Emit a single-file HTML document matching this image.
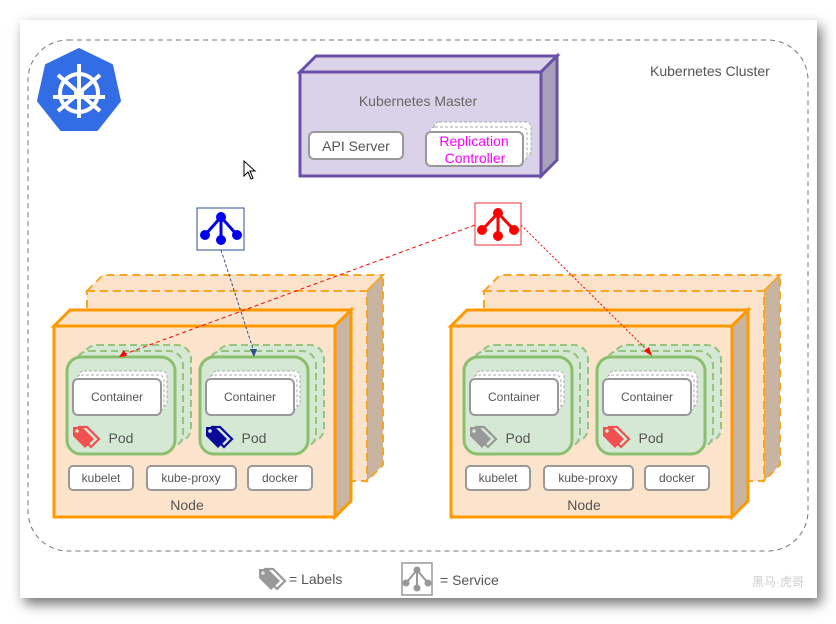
<!DOCTYPE html>
<html><head><meta charset="utf-8"><style>
html,body{margin:0;padding:0;background:#fff;width:836px;height:624px;overflow:hidden}
.card{position:absolute;left:20px;top:20px;width:797px;height:578px;background:#fff;box-shadow:4px 6px 12px rgba(0,0,0,0.55)}
svg{position:absolute;left:0;top:0}
text{font-family:"Liberation Sans",sans-serif}
</style></head><body>
<div class="card"></div>
<svg width="836" height="624" viewBox="0 0 836 624">
<defs>
<g id="tag">
<path d="M6,0 L14,0 L26,12 L18,20 L6,8 Z" fill="none" stroke="currentColor" stroke-width="2.2"/>
<path d="M0,0 L9,0 L21,12 L12,21 L0,9 Z" fill="currentColor"/>
<circle cx="4" cy="4" r="1.8" fill="#d8e8d0"/>
</g>
<g id="pod">
<rect x="16" y="-12" width="108" height="97" rx="14" fill="#d5e8d4" stroke="#97c37f" stroke-width="2" stroke-dasharray="7,4"/>
<rect x="8" y="-6" width="108" height="97" rx="14" fill="#d5e8d4" stroke="#97c37f" stroke-width="2" stroke-dasharray="7,4"/>
<rect x="0" y="0" width="108" height="97" rx="14" fill="#d5e8d4" stroke="#8bbf6e" stroke-width="3"/>
<rect x="12" y="14" width="88" height="36" rx="5" fill="#fff" stroke="#aaa" stroke-dasharray="3,2"/>
<rect x="9" y="18" width="88" height="36" rx="5" fill="#fff" stroke="#aaa" stroke-dasharray="3,2"/>
<rect x="6" y="22" width="88" height="36" rx="5" fill="#fff" stroke="#999" stroke-width="2"/>
</g>
<g id="node">
<path d="M33,-35 L49,-51 L329,-51 L313,-35 Z" fill="#fbe3cb" stroke="#f5a623" stroke-width="2" stroke-dasharray="8,5"/>
<path d="M313,-35 L329,-51 L329,139 L313,155 Z" fill="#c8b4a0" stroke="#f5a623" stroke-width="2" stroke-dasharray="8,5"/>
<rect x="33" y="-35" width="280" height="190" fill="#fbe3cb" stroke="#f5a623" stroke-width="2" stroke-dasharray="8,5"/>
<path d="M0,0 L16,-16 L297,-16 L281,0 Z" fill="#fbe3cb" stroke="#f90" stroke-width="3"/>
<path d="M281,0 L297,-16 L297,175 L281,191 Z" fill="#c8b4a0" stroke="#f90" stroke-width="3"/>
<rect x="0" y="0" width="281" height="191" fill="#fce4cc" stroke="#f90" stroke-width="3"/>
<use href="#pod" x="13" y="31"/>
<use href="#pod" x="146" y="31"/>
<rect x="15" y="140" width="64" height="24" rx="4" fill="#fff" stroke="#999" stroke-width="2"/>
<rect x="93" y="140" width="89" height="24" rx="4" fill="#fff" stroke="#999" stroke-width="2"/>
<rect x="194" y="140" width="64" height="24" rx="4" fill="#fff" stroke="#999" stroke-width="2"/>
</g>
</defs>

<rect x="28" y="40" width="780" height="511" rx="40" fill="none" stroke="#777" stroke-dasharray="5,4"/>
<text x="650" y="76" font-size="14" fill="#555">Kubernetes Cluster</text>

<!-- logo -->
<polygon points="79,49 112,65 120,101 97,130 61,130 38,101 46,65" fill="#326de6" stroke="#326de6" stroke-width="2" stroke-linejoin="round"/>
<g stroke="#fff" fill="none" stroke-width="4">
<circle cx="79" cy="93" r="19"/>
<line x1="79" y1="64" x2="79" y2="118"/>
<line x1="58" y1="75" x2="100" y2="111"/>
<line x1="100" y1="75" x2="58" y2="111"/>
<line x1="53" y1="97" x2="105" y2="97"/>
</g>
<circle cx="79" cy="93" r="5" fill="#fff"/>

<!-- master -->
<path d="M300,72 L316,56 L557,56 L541,72 Z" fill="#dcd5ea" stroke="#6a50a7" stroke-width="3"/>
<path d="M541,72 L557,56 L557,160 L541,176 Z" fill="#a9a1b9" stroke="#6a50a7" stroke-width="3"/>
<rect x="300" y="72" width="241" height="104" fill="#d9d2e8" stroke="#6a50a7" stroke-width="3"/>
<text x="418" y="106" font-size="14" fill="#666" text-anchor="middle">Kubernetes Master</text>
<rect x="309" y="132" width="94" height="27" rx="5" fill="#fff" stroke="#999" stroke-width="2"/>
<text x="356" y="151" font-size="14" fill="#555" text-anchor="middle">API Server</text>
<rect x="434" y="122" width="97" height="34" rx="5" fill="#fff" stroke="#aaa" stroke-dasharray="3,2"/>
<rect x="430" y="127" width="97" height="34" rx="5" fill="#fff" stroke="#aaa" stroke-dasharray="3,2"/>
<rect x="426" y="132" width="97" height="34" rx="5" fill="#fff" stroke="#999" stroke-width="2"/>
<text x="474" y="146" font-size="14" fill="#f0f" text-anchor="middle">Replication</text>
<text x="475" y="163" font-size="14" fill="#f0f" text-anchor="middle">Controller</text>

<!-- cursor -->
<path d="M244,161 L244,176 L248,172 L251,179 L253,178 L250,171 L255,171 Z" fill="#fff" stroke="#000" stroke-width="1"/>

<!-- nodes -->
<use href="#node" x="54" y="326"/>
<use href="#node" x="451" y="326"/>

<g font-size="12" fill="#555" text-anchor="middle">
<text x="117" y="401">Container</text>
<text x="250" y="401">Container</text>
<text x="514" y="401">Container</text>
<text x="647" y="401">Container</text>
<text x="101" y="482">kubelet</text>
<text x="191" y="482">kube-proxy</text>
<text x="280" y="482">docker</text>
<text x="498" y="482">kubelet</text>
<text x="588" y="482">kube-proxy</text>
<text x="677" y="482">docker</text>
</g>
<g font-size="14" fill="#555" text-anchor="middle">
<text x="121" y="443">Pod</text>
<text x="254" y="443">Pod</text>
<text x="518" y="443">Pod</text>
<text x="651" y="443">Pod</text>
<text x="187" y="510">Node</text>
<text x="584" y="510">Node</text>
</g>
<use href="#tag" x="73" y="427" style="color:#f05050"/>
<use href="#tag" x="206" y="427" style="color:#0a0a9a"/>
<use href="#tag" x="470" y="427" style="color:#999"/>
<use href="#tag" x="603" y="427" style="color:#f05050"/>

<!-- connectors -->
<line x1="221" y1="250" x2="254" y2="352" stroke="#2f4f8f" stroke-dasharray="3,2"/>
<polygon points="254,357 250,349 257,349" fill="#2f4f8f"/>
<line x1="475" y1="225" x2="125" y2="354" stroke="#f00" stroke-dasharray="4,3"/>
<polygon points="119,357 124,350 127,356" fill="#f00"/>
<line x1="521" y1="225" x2="648" y2="351" stroke="#f00" stroke-dasharray="2,2"/>
<polygon points="652,356 644,351 649,347" fill="#f00"/>

<!-- services -->
<rect x="197" y="208" width="47" height="42" fill="#fff" stroke="#2f4f8f"/>
<g stroke="#0000ee" stroke-width="3" fill="#0000ee">
<line x1="221" y1="217" x2="205" y2="235"/><line x1="221" y1="217" x2="237" y2="235"/><line x1="221" y1="217" x2="221" y2="240"/>
<circle cx="221" cy="217" r="3.5"/><circle cx="205" cy="235" r="3.5"/><circle cx="237" cy="235" r="3.5"/><circle cx="221" cy="240" r="3.5"/>
</g>
<rect x="475" y="203" width="46" height="42" fill="#fff" stroke="#e33"/>
<g stroke="#f00" stroke-width="3" fill="#f00">
<line x1="498" y1="213" x2="482" y2="230"/><line x1="498" y1="213" x2="514" y2="230"/><line x1="498" y1="213" x2="498" y2="236"/>
<circle cx="498" cy="213" r="3.5"/><circle cx="482" cy="230" r="3.5"/><circle cx="514" cy="230" r="3.5"/><circle cx="498" cy="236" r="3.5"/>
</g>

<!-- legend -->
<use href="#tag" x="259" y="569" style="color:#999"/>
<text x="289" y="584" font-size="14" fill="#555">= Labels</text>
<rect x="402" y="563" width="30" height="32" fill="#fff" stroke="#999" stroke-width="1.5"/>
<g stroke="#999" stroke-width="2" fill="#999">
<line x1="417" y1="570" x2="406" y2="583"/><line x1="417" y1="570" x2="428" y2="583"/><line x1="417" y1="570" x2="417" y2="588"/>
<circle cx="417" cy="570" r="2.5"/><circle cx="406" cy="583" r="2.5"/><circle cx="428" cy="583" r="2.5"/><circle cx="417" cy="588" r="2.5"/>
</g>
<text x="440" y="585" font-size="14" fill="#555">= Service</text>
<text x="752" y="586" font-size="12" fill="#ccc" style='font-family:"Liberation Sans","Noto Sans CJK SC",sans-serif'>黑马·虎哥</text>
</svg>
</body></html>
